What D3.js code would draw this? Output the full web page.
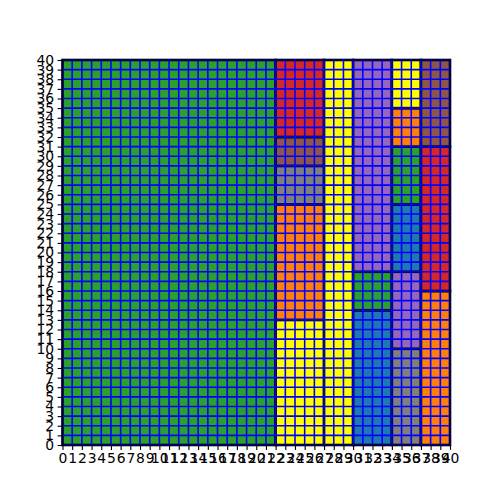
<!DOCTYPE html>
<html>
<head>
<meta charset="utf-8">
<script src="https://cdn.jsdelivr.net/npm/d3@7"></script>
<style>
html,body{margin:0;padding:0;background:#fff;}
svg{display:block;}
text{font-family:"DejaVu Sans",sans-serif;}
</style>
</head>
<body>
<svg id="chart" width="500" height="500"></svg>
<script>
// Column widths (x units) and stacked segment heights (y units, bottom-up)
const columnWidths = [22, 5, 3, 4, 3, 3];
const columnSegments = [
  [40],
  [13, 12, 4, 3, 8],
  [40],
  [14, 4, 22],
  [10, 8, 7, 6, 4, 5],
  [16, 15, 9]
];
const columnColors = [
  ["#2ca02c"],
  ["#ffff00", "#ff7f0e", "#7f7f7f", "#8c564b", "#d62728"],
  ["#ffff00"],
  ["#1f77b4", "#2ca02c", "#9467bd"],
  ["#7f7f7f", "#9467bd", "#1f77b4", "#2ca02c", "#ff7f0e", "#ffff00"],
  ["#ff7f0e", "#d62728", "#8c564b"]
];
const xTicks = d3.range(0, 41);
const yTicks = d3.range(0, 41);

const svg = d3.select("#chart");
const L = 62.5, R = 450, T = 60, B = 445;
const x = d3.scaleLinear().domain([0, 40]).range([L, R]);
const y = d3.scaleLinear().domain([0, 40]).range([B, T]);

// build rectangles from cumulative sums
const rects = [];
let cx = 0;
columnWidths.forEach((w, i) => {
  let cy = 0;
  columnSegments[i].forEach((h, j) => {
    rects.push({x0: cx, x1: cx + w, y0: cy, y1: cy + h, color: columnColors[i][j]});
    cy += h;
  });
  cx += w;
});

svg.append("g").selectAll("rect").data(rects).join("rect")
  .attr("x", d => x(d.x0))
  .attr("y", d => y(d.y1))
  .attr("width", d => x(d.x1) - x(d.x0))
  .attr("height", d => y(d.y0) - y(d.y1))
  .attr("fill", d => d.color)
  .attr("stroke", "#000")
  .attr("stroke-width", 2.6);

// grid
const grid = svg.append("g");
grid.selectAll("line.v").data(xTicks).join("line").attr("class", "v")
  .attr("x1", d => x(d)).attr("x2", d => x(d))
  .attr("y1", T).attr("y2", B)
  .attr("stroke", "#0000ff").attr("stroke-width", 1.6);
grid.selectAll("line.h").data(yTicks).join("line").attr("class", "h")
  .attr("y1", d => y(d)).attr("y2", d => y(d))
  .attr("x1", L).attr("x2", R)
  .attr("stroke", "#0000ff").attr("stroke-width", 1.6);

// axes
const xAxis = d3.axisBottom(x).tickValues(xTicks).tickFormat(d3.format("d")).tickSize(4.9).tickPadding(3.5);
const yAxis = d3.axisLeft(y).tickValues(yTicks).tickFormat(d3.format("d")).tickSize(4.9).tickPadding(3.5);
const gx = svg.append("g").attr("transform", `translate(0,${B})`).call(xAxis);
const gy = svg.append("g").attr("transform", `translate(${L},0)`).call(yAxis);
[gx, gy].forEach(g => {
  g.select(".domain").remove();
  g.selectAll("line").attr("stroke", "#000").attr("stroke-width", 1.1);
  g.selectAll("text").attr("fill", "#000").style("font-size", "13.9px").style("font-family", "'DejaVu Sans', sans-serif");
});

// spines
svg.append("rect").attr("x", L).attr("y", T).attr("width", R - L).attr("height", B - T)
  .attr("fill", "none").attr("stroke", "#000").attr("stroke-width", 1.1);
</script>
</body>
</html>
